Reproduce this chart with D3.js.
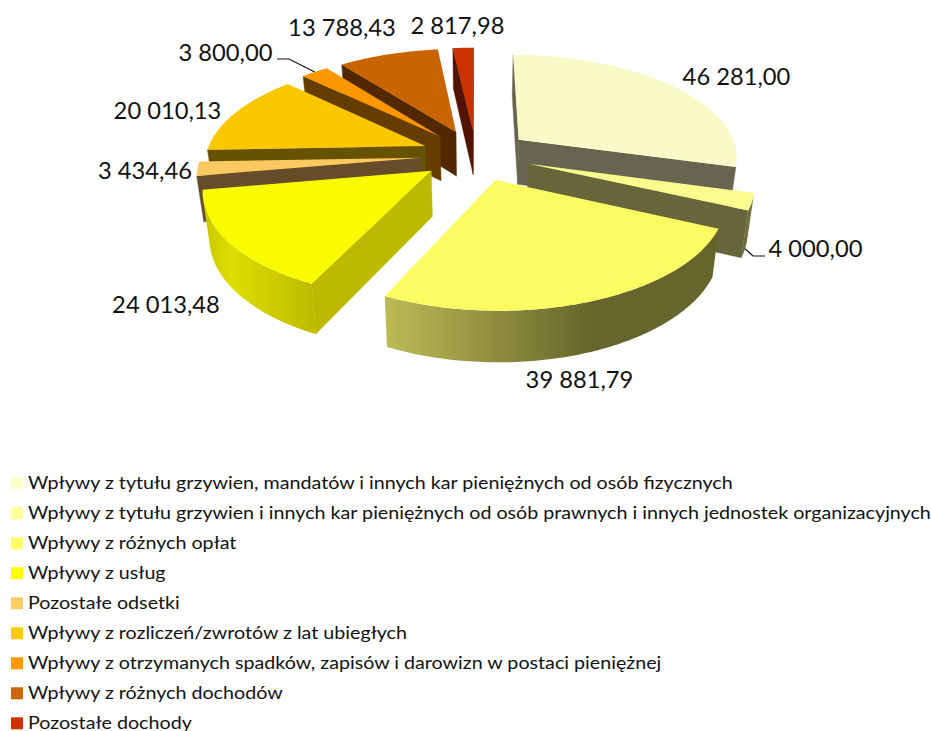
<!DOCTYPE html>
<html lang="pl">
<head>
<meta charset="utf-8">
<title>Wpływy</title>
<style>
html,body{margin:0;padding:0;background:#fff;overflow:hidden}
svg{display:block}
text{font-family:Lato,"Open Sans",sans-serif;fill:#111}
</style>
<script src="https://cdn.jsdelivr.net/npm/d3@7/dist/d3.min.js"></script>
</head>
<body>
<svg id="chart" width="931" height="731"></svg>
<script>
const categories = [
  "Wpływy z tytułu grzywien, mandatów i innych kar pieniężnych od osób fizycznych",
  "Wpływy z tytułu grzywien i innych kar pieniężnych od osób prawnych i innych jednostek organizacyjnych",
  "Wpływy z różnych opłat",
  "Wpływy z usług",
  "Pozostałe odsetki",
  "Wpływy z rozliczeń/zwrotów z lat ubiegłych",
  "Wpływy z otrzymanych spadków, zapisów i darowizn w postaci pieniężnej",
  "Wpływy z różnych dochodów",
  "Pozostałe dochody"
];
const values = [46281.00, 4000.00, 39881.79, 24013.48, 3434.46, 20010.13, 3800.00, 13788.43, 2817.98];
const legendColors = ["#FFFFCC","#FFFF99","#FFFF66","#FFFF00","#FFCC66","#FFCC00","#FF9900","#CC6600","#CC3300"];
const topColors = ["#F9FAC8","#FBFB8E","#FCFC62","#FBFB00","#FCC860","#FBC800","#FC9700","#CA6400","#CB3000"];
const cutColors = ["#676550","#66663A","#66662A","#BDB900","#664C29","#665200","#663D00","#522800","#521400"];
// outer-wall shading, left to right across the visible wall: [offset, colour]
const wallStops = [
  [[0,"#676550"],[1,"#676550"]],
  [[0,"#66663A"],[1,"#7A7A45"]],
  [[0,"#BDBB55"],[0.62,"#66652B"],[1,"#66652B"]],
  [[0,"#C9C700"],[0.25,"#DEDE00"],[1,"#BDBA00"]],
  [[0,"#664C29"],[1,"#664C29"]],
  [[0,"#665200"],[1,"#665200"]],
  [[0,"#663D00"],[1,"#663D00"]],
  [[0,"#522800"],[1,"#522800"]],
  [[0,"#521400"],[1,"#521400"]]
];
// painter's order: back-left slices first, front-right last
const paintOrder = [8,7,6,5,4,3,0,1,2];
const explode = 0.25;
const labelPos = [[736.5,85],[815.5,257],[579.5,388],[166,313],[145,179],[167.5,119],[225.5,61],[342,36],[457.5,34]];
const leaderElbow = [null,[[753,256],[765,256]],null,null,null,null,[[289,59],[277,59]],null,null];

const W = 931, H = 731;
const cx = 476, cy = 155, R = 219.5, Rq = 102.3, k = 0.153;
const depth = 45, shrink = 0.975, step = Math.PI/180;
const labelFont = 22.5, labelStretch = 1.054, legendFont = 17.2, legendStretch = 1.1445;

const x = d3.scaleLinear().domain([-1,1]).range([cx-R,cx+R]);
const y = d3.scaleLinear().domain([-1,1]).range([cy-Rq,cy+Rq]);
const line = d3.line().curve(d3.curveLinearClosed);
const open = d3.line();
const fmt = d3.formatLocale({decimal:",",thousands:" ",grouping:[3],currency:["",""]}).format(",.2f");

function project(u,v,bottom){
  const s = 1/(1-k*v);
  const px = x(u*s), py = y(v*s);
  if(!bottom) return [px,py];
  return [cx+(px-cx)*shrink, cy+(py-cy)*shrink+depth*s];
}
const svg = d3.select("#chart");
const defs = svg.append("defs");
const arcs = d3.pie().sort(null).startAngle(0).endAngle(2*Math.PI)(values);

function slicePoint(a,r,mid,bottom){
  return project(Math.sin(a)*r+Math.sin(mid)*explode, -Math.cos(a)*r-Math.cos(mid)*explode, bottom);
}
const gPie = svg.append("g");
paintOrder.forEach(i=>{
  const d = arcs[i], mid=(d.startAngle+d.endAngle)/2;
  const g = gPie.append("g");
  const n = Math.max(2,Math.ceil((d.endAngle-d.startAngle)/step));
  const angles = d3.range(n+1).map(j=>d.startAngle+(d.endAngle-d.startAngle)*j/n);
  const quad = (pts,fill)=>{
    if(d3.polygonArea(pts)<=0) return;
    g.append("path").attr("d",line(pts)).attr("fill",fill).attr("stroke",fill).attr("stroke-width",0.4);
  };
  const ap=slicePoint(0,0,mid,false), apB=slicePoint(0,0,mid,true);
  quad([ap,slicePoint(d.startAngle,1,mid,false),slicePoint(d.startAngle,1,mid,true),apB],cutColors[i]);
  quad([slicePoint(d.endAngle,1,mid,false),ap,apB,slicePoint(d.endAngle,1,mid,true)],cutColors[i]);
  // outer wall: one polygon through the front-facing part of the rim
  const facing = angles.slice(0,-1).map((a,j)=>[a,angles[j+1]]).filter(([a0,a1])=>
    d3.polygonArea([slicePoint(a0,1,mid,false),slicePoint(a1,1,mid,false),slicePoint(a1,1,mid,true),slicePoint(a0,1,mid,true)])>0);
  if(facing.length){
    const rim=[facing[0][0]].concat(facing.map(f=>f[1]));
    const pts=rim.map(a=>slicePoint(a,1,mid,false)).concat(rim.slice().reverse().map(a=>slicePoint(a,1,mid,true)));
    const ext=d3.extent(pts,p=>p[0]);
    const id="wall"+i;
    const gr=defs.append("linearGradient").attr("id",id).attr("gradientUnits","userSpaceOnUse")
      .attr("x1",ext[0]).attr("x2",ext[1]).attr("y1",0).attr("y2",0);
    wallStops[i].forEach(s=>gr.append("stop").attr("offset",s[0]).attr("stop-color",s[1]));
    g.append("path").attr("d",line(pts)).attr("fill",`url(#${id})`);
  }
  const topPts=[ap].concat(angles.map(a=>slicePoint(a,1,mid,false)));
  g.append("path").attr("d",line(topPts)).attr("fill",topColors[i]);
});

function fitText(sel,stretch){
  sel.each(function(){
    this.setAttribute("textLength",this.getComputedTextLength()*stretch);
    this.setAttribute("lengthAdjust","spacingAndGlyphs");
  });
}
// value labels and leader lines
values.forEach((v,i)=>{
  fitText(svg.append("text").attr("x",labelPos[i][0]).attr("y",labelPos[i][1]).attr("text-anchor","middle")
    .attr("font-size",labelFont).text(fmt(v)),labelStretch);
  if(leaderElbow[i]){
    const d=arcs[i],m=(d.startAngle+d.endAngle)/2;
    const anchor=slicePoint(m,1,m,i===1);
    svg.append("path").attr("d",open([anchor].concat(leaderElbow[i]))).attr("fill","none").attr("stroke","#111").attr("stroke-width",1.2);
  }
});

// legend
const legendY = d3.scalePoint().domain(categories).range([483.3,723.3]);
const lg = svg.append("g").selectAll("g").data(categories).join("g").attr("transform",c=>`translate(11,${legendY(c)})`);
lg.append("rect").attr("x",0).attr("y",-6).attr("width",12).attr("height",12).attr("fill",(c,i)=>legendColors[i]);
fitText(lg.append("text").attr("x",17).attr("y",6).attr("font-size",legendFont).text(c=>c),legendStretch);
</script>
</body>
</html>
